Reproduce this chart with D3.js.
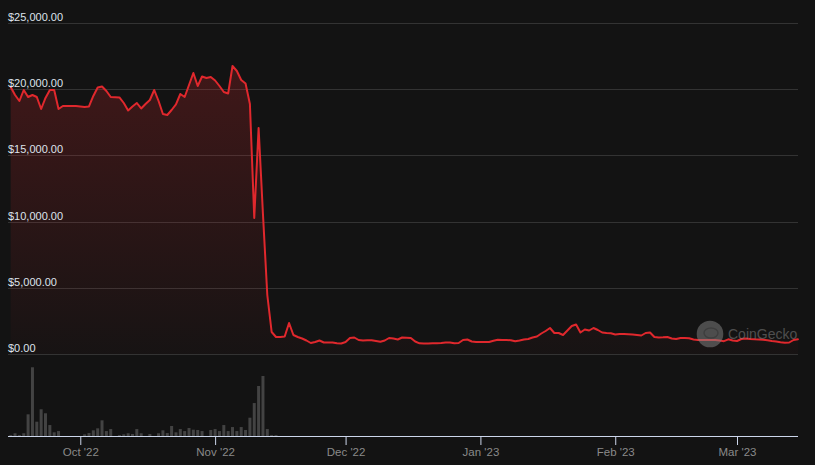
<!DOCTYPE html>
<html>
<head>
<meta charset="utf-8">
<script src="https://cdn.jsdelivr.net/npm/d3@7"></script>
<style>
  html, body { margin: 0; padding: 0; background: #131313; }
  svg { display: block; font-family: "Liberation Sans", Arial, sans-serif; }
</style>
</head>
<body>
<svg id="chart" width="815" height="465"></svg>
<script>
// ---- DATA ----
const startDate = "2022-09-15"; // first daily observation
const endDate = "2023-03-15";
const prices = [
  20167, 19562, 19109, 19940, 19411, 19562, 19411, 18505, 19336, 19940,
  19940, 18505, 18731, 18731, 18731, 18731, 18694, 18656, 18694, 19487,
  20129, 20204, 19864, 19411, 19389, 19374, 18958, 18392, 18694, 18958,
  18543, 18883, 19185, 19940, 19109, 18127, 18052, 18429, 18845, 19638,
  19411, 20318, 21224, 20242, 20960, 20846, 20922, 20657, 20242, 19789,
  19676, 21753, 21375, 20695, 20431, 18883, 10272, 17070, 10574, 4456,
  1662, 1284, 1284, 1322, 2341, 1435, 1284, 1171, 1020, 831,
  906, 1020, 869, 869, 869, 808, 793, 906, 1208, 1246,
  1057, 1020, 1035, 1035, 982, 921, 1020, 1208, 1171, 1095,
  1246, 1224, 1208, 944, 808, 793, 793, 808, 808, 831,
  869, 869, 808, 831, 1057, 1095, 944, 906, 906, 906,
  906, 997, 1073, 1057, 1057, 1035, 959, 1020, 1095, 1133,
  1246, 1322, 1548, 1737, 1964, 1586, 1586, 1435, 1775, 2115,
  2228, 1624, 1850, 1775, 1964, 1813, 1624, 1586, 1563, 1473,
  1511, 1511, 1496, 1473, 1435, 1397, 1586, 1624, 1284, 1246,
  1261, 1284, 1171, 1133, 1208, 1208, 1186, 1095, 1057, 1057,
  1057, 1057, 1057, 1020, 967, 1110, 1020, 982, 1133, 1171,
  1133, 1110, 1095, 1073, 1035, 982, 944, 884, 853, 869,
  1057, 1110
];
// daily traded volume (thousand USD)
const volumes = [
  12, 34, 12, 34, 271, 859, 179, 334, 284, 137,
  46, 62, 0, 0, 0, 0, 0, 21, 37, 71,
  96, 196, 62, 87, 0, 12, 21, 34, 25, 87,
  34, 0, 25, 0, 34, 71, 37, 125, 46, 87,
  62, 100, 79, 75, 62, 0, 75, 87, 62, 137,
  62, 112, 62, 112, 75, 229, 412, 625, 750, 87,
  12, 12
];
const priceTicks = [0, 5000, 10000, 15000, 20000, 25000];
const monthTicks = ["2022-10-01", "2022-11-01", "2022-12-01", "2023-01-01", "2023-02-01", "2023-03-01"];

// ---- BUILD ----
const parse = d3.utcParse("%Y-%m-%d");
const t0 = parse(startDate);
const priceData = prices.map((v, i) => ({ date: d3.utcDay.offset(t0, i), value: v }));
const volData = volumes.map((v, i) => ({ date: d3.utcDay.offset(t0, i), value: v }));

const svg = d3.select("#chart");
const W = 815, H = 465;
svg.append("rect").attr("width", W).attr("height", H).attr("fill", "#131313");

const plotLeft = 8, plotRight = 798;
const x = d3.scaleUtc().domain([parse(startDate), parse(endDate)]).range([10.7, 797.9]);
const y = d3.scaleLinear().domain([0, 25000]).range([354, 23]);
const yVol = d3.scaleLinear().domain([0, 1000]).range([436, 356]);

// gradient for area
const defs = svg.append("defs");
const grad = defs.append("linearGradient").attr("id", "areaGrad")
  .attr("x1", 0).attr("y1", 0).attr("x2", 0).attr("y2", 1);
grad.append("stop").attr("offset", "0%").attr("stop-color", "#e0282d").attr("stop-opacity", 0.22);
grad.append("stop").attr("offset", "100%").attr("stop-color", "#e0282d").attr("stop-opacity", 0.02);

// gridlines
svg.append("g").selectAll("line").data(priceTicks).join("line")
  .attr("x1", plotLeft).attr("x2", plotRight)
  .attr("y1", d => Math.round(y(d)) + 0.5).attr("y2", d => Math.round(y(d)) + 0.5)
  .attr("stroke", "#333333").attr("stroke-width", 1);

// area + line
const area = d3.area().x(d => x(d.date)).y0(y(0)).y1(d => y(d.value)).curve(d3.curveLinear);
const line = d3.line().x(d => x(d.date)).y(d => y(d.value)).curve(d3.curveLinear);
svg.append("path").datum(priceData).attr("d", area).attr("fill", "url(#areaGrad)");
svg.append("path").datum(priceData).attr("d", line)
  .attr("fill", "none").attr("stroke", "#e0282d").attr("stroke-width", 2)
  .attr("stroke-linejoin", "round").attr("stroke-linecap", "round");

// y labels
svg.append("g").selectAll("text").data(priceTicks).join("text")
  .attr("x", plotLeft).attr("y", d => y(d) - 2)
  .attr("fill", "#dde3ec").attr("font-size", "11px")
  .text(d => "$" + d3.format(",.2f")(d));

// volume bars
svg.append("g").selectAll("rect").data(volData.filter(d => d.value > 0)).join("rect")
  .attr("x", d => x(d.date) - 1.5).attr("width", 3)
  .attr("y", d => yVol(d.value)).attr("height", d => yVol(0) - yVol(d.value))
  .attr("fill", "#434343");

// x axis
svg.append("line").attr("x1", plotLeft).attr("x2", plotRight)
  .attr("y1", 436.5).attr("y2", 436.5).attr("stroke", "#ccd6eb").attr("stroke-width", 1);
const xAxis = d3.axisBottom(x).tickValues(monthTicks.map(parse))
  .tickFormat(d3.utcFormat("%b '%y")).tickSize(9).tickPadding(3);
const gx = svg.append("g").attr("transform", "translate(0,436)").call(xAxis);
gx.select(".domain").remove();
gx.selectAll(".tick line").attr("stroke", "#ccd6eb");
gx.selectAll(".tick text").attr("fill", "#8a8a8a").attr("font-size", "11.5px")
  .attr("font-family", "\"Liberation Sans\", Arial, sans-serif");

// watermark
const wm = svg.append("g").attr("opacity", 0.5);
wm.append("circle").attr("cx", 710).attr("cy", 334).attr("r", 13.3).attr("fill", "#888888");
wm.append("ellipse").attr("cx", 711).attr("cy", 333).attr("rx", 7).attr("ry", 5).attr("fill", "none")
  .attr("stroke", "#6a6a6a").attr("stroke-width", 1.5);
wm.append("text").attr("x", 728).attr("y", 339).attr("fill", "#8a8a8a")
  .attr("font-size", "14px").attr("font-family", "\"Liberation Sans\", Arial, sans-serif")
  .text("CoinGecko");
</script>
</body>
</html>
